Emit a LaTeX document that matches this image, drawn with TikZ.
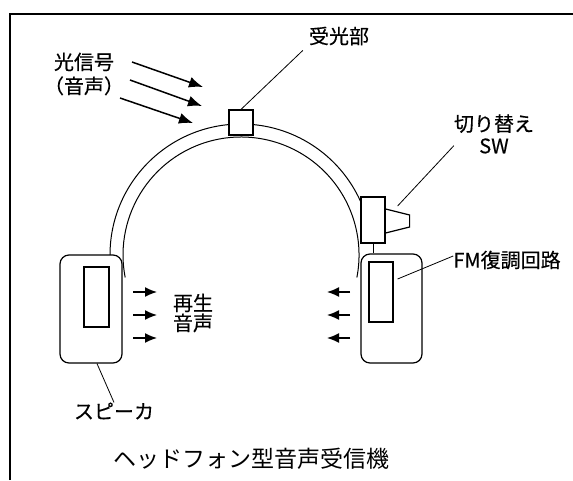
\documentclass[tikz,border=0pt]{standalone}
\usepackage{fontspec}
\newfontfamily\jp{Noto Sans CJK JP}
\newfontfamily\jpdark[FakeBold=0.4]{Noto Sans CJK JP}
\usetikzlibrary{arrows.meta}
\usetikzlibrary{positioning}

\begin{document}
\begin{tikzpicture}[
    x=1pt, y=-1pt,
    cup/.style={
        draw, fill=white, line width=1.2pt,
        rounded corners=9pt, inner sep=0pt
    },
    part/.style={draw, fill=white, line width=1.2pt, inner sep=0pt},
    lbl/.style={font={\jpdark\fontsize{20}{24}\selectfont}, inner sep=0pt, align=center},
    lead/.style={line width=0.8pt},
    band/.style={line width=1pt},
    light/.style={line width=1.5pt, -{Latex[length=14pt,width=11pt]}},
    sound/.style={line width=1.5pt, -{Latex[length=12pt,width=10pt]}}
]
\useasboundingbox (0,0) rectangle (573,480);
\draw[line width=2.5pt] (10,480) -- (10,14) -- (573,14);

% head band
\draw[band] (110,255) arc[start angle=180, end angle=336, radius=131];
\draw[band] (125.2,277.5) arc[start angle=169, end angle=371, radius=118];

% ear cups and parts
\node[cup, minimum width=62pt, minimum height=108pt] (cupL) at (91,309) {};
\node[part, minimum width=25pt, minimum height=60pt] (spk) at (96.5,297) {};
\node[cup, minimum width=61pt, minimum height=109pt] (cupR) at (391.5,308.5) {};
\node[part, minimum width=24pt, minimum height=60pt] (fm) at (381,292) {};
\node[part, minimum width=24pt, minimum height=25pt] (recv) at (241,122.5) {};
\node[part, minimum width=24pt, minimum height=46pt] (sw) at (373,220) {};
\draw[line width=1.2pt] ([shift={(0,-11)}]sw.east) -- ++(24,6) -- ++(0,12) -- ++(-24,6);
\draw[line width=1pt] (sw.south) -- (sw.south |- cupR.north);

% labels
\node[lbl] (sig) at (84,74) {光信号\\（音声）};
\node[lbl] (recvlbl) at (339,36) {受光部};
\node[lbl, font={\jpdark\fontsize{20}{22}\selectfont}] (swlbl) at (494,134) {切り替え\\SW};
\node[lbl] (fmlbl) at (507,260) {FM復調回路};
\node[lbl, font={\jpdark\fontsize{20}{20}\selectfont}] (play) at (193,313) {再生\\音声};
\node[lbl] (spklbl) at (114,411) {スピーカ};
\node[font={\jp\fontsize{23}{28}\selectfont}, inner sep=0pt] (title) at (251,459) {ヘッドフォン型音声受信機};

% leaders
\draw[lead] (recv.north) -- ([shift={(-6,5)}]recvlbl.south west);
\draw[lead] ([shift={(12,-14)}]sw.east) -- ([shift={(0,-8)}]swlbl.south west);
\draw[lead] ([shift={(4,-13)}]fm.east) -- ([shift={(0,-4)}]fmlbl.west);
\draw[lead] ([xshift=6]cupL.south) -- (spklbl.north);

% incoming light
\coordinate (l1) at (132,62);  \coordinate (l1e) at (203,87);
\coordinate (l2) at (130,80);  \coordinate (l2e) at (202,106);
\coordinate (l3) at (120,98);  \coordinate (l3e) at (193,123);
\foreach \i in {1,2,3}
    \draw[light] (l\i) -- (l\i e);

% sound out of the cups
\foreach \y [count=\i] in {292,315,338} {
    \coordinate (sl\i) at (133,\y);
    \coordinate (sr\i) at (350,\y);
    \draw[sound] (sl\i) -- ++(24,0);
    \draw[sound] (sr\i) -- ++(-23,0);
}
\end{tikzpicture}
\end{document}
